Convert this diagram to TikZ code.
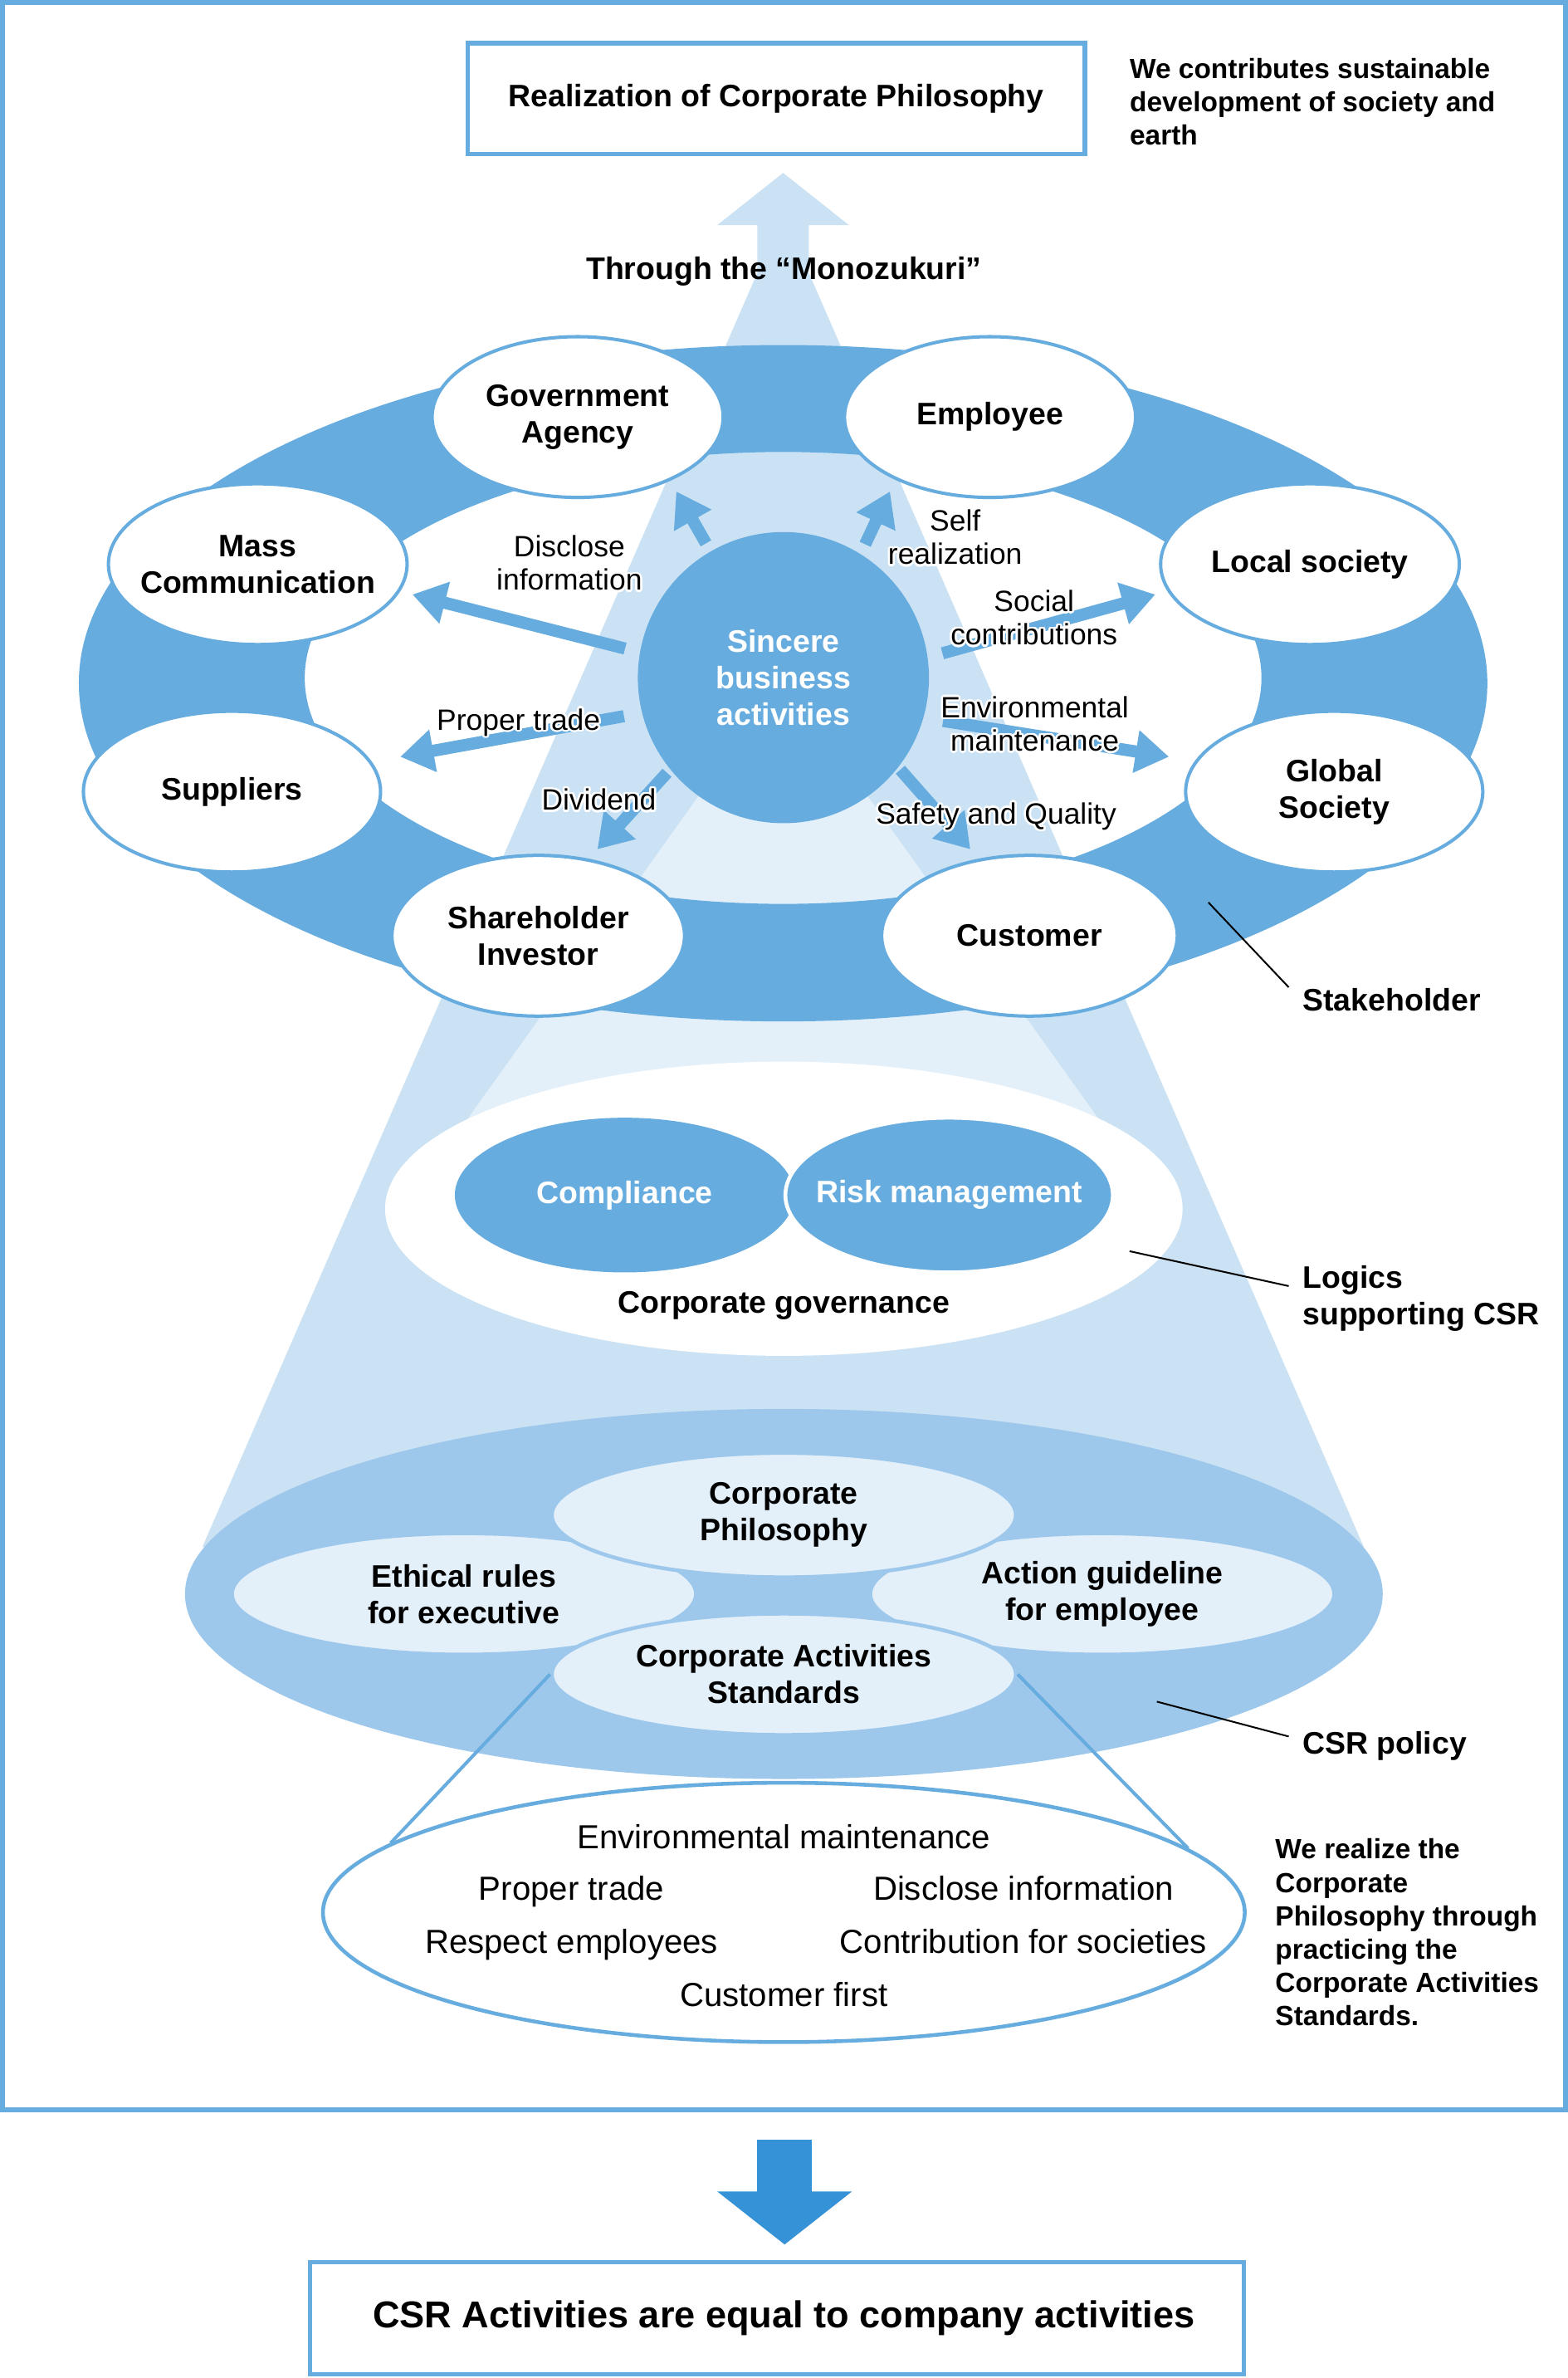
\documentclass[tikz,border=0pt]{standalone}
\usepackage{fontspec}
\setmainfont{Liberation Sans}
\usepackage{contour}
\contourlength{1.4pt}
\usetikzlibrary{arrows.meta,shapes.geometric}
\definecolor{ringblue}{HTML}{67ACDF}
\definecolor{conelight}{HTML}{CBE2F4}
\definecolor{conepale}{HTML}{E3F0FA}
\definecolor{policyblue}{HTML}{9DC8EB}
\definecolor{deepblue}{HTML}{3592D7}
\newcommand\boldlbl{\fontsize{20.5}{24}\selectfont\bfseries}
\newcommand\notelbl{\fontsize{18.3}{22}\selectfont\bfseries}
\newcommand\spokelbl{\fontsize{19.4}{22}\selectfont}
\newcommand\listlbl{\fontsize{22}{26}\selectfont}
\newcommand\halo[1]{\contour{white}{#1}}
\tikzset{
  stake/.style={ellipse, draw=ringblue, line width=2.2pt, fill=white, minimum height=106pt,
    inner xsep=-12pt, inner ysep=0pt, font=\boldlbl, align=center},
  spoke/.style={draw=ringblue, line width=8pt, -{Triangle[length=22pt,width=27pt]}},
  spoketext/.style={font=\spokelbl, align=center, inner sep=0pt},
  logic/.style={ellipse, fill=ringblue, text=white, font=\boldlbl, minimum width=224pt,
    minimum height=102pt, inner xsep=-14pt, inner ysep=0pt},
  policy/.style={ellipse, fill=conepale, draw=policyblue, line width=2.5pt, minimum width=306pt,
    minimum height=80pt, inner sep=0pt, font=\boldlbl, align=center},
  boxed/.style={draw=ringblue, line width=3pt, fill=white, inner sep=0pt},
  note/.style={font=\notelbl, align=left, anchor=north west, inner sep=0pt},
  tag/.style={font=\boldlbl, align=left, anchor=west, inner xsep=9pt, inner ysep=0pt},
  lead/.style={draw=black, line width=1.1pt},
  zoomline/.style={draw=ringblue, line width=2.2pt},
  bigarrow/.style={draw=deepblue, line width=36pt, -{Triangle[length=35pt,width=87pt]}},
}

\begin{document}
\begin{tikzpicture}[x=1pt,y=-1pt]
\useasboundingbox[fill=white] (0,0) rectangle (1034,1568);
% light cone with the arrow on top
\fill[conelight] (516.5,114) -- (560,148.5) -- (533.5,148.5) -- (533.5,180) -- (899.5,1020)
  -- (133.5,1020) -- (499.5,180) -- (499.5,148.5) -- (473,148.5) -- cycle;
\fill[conepale] (516.5,447) -- (767,797) -- (266,797) -- cycle;
% stakeholder ring
\fill[ringblue,even odd rule] (516.5,450.5) ellipse [x radius=464.5pt,y radius=223pt]
  (516.5,447) ellipse [x radius=315.5pt,y radius=149pt];

\coordinate (govE) at (446,324);
\coordinate (empE) at (587,324);
\coordinate (masE) at (272,392);
\coordinate (locE) at (762,392);
\coordinate (supE) at (264,499);
\coordinate (gloE) at (771,499);
\coordinate (shaE) at (394,560);
\coordinate (cusE) at (640,560);

\node[circle, fill=ringblue, minimum size=192pt, inner sep=0pt, text=white, font=\boldlbl,
  align=center] (sba) at (516.7,446.8) {Sincere\\business\\activities};

\draw[spoke, shorten <=6pt] (sba.120.5) -- (govE);
\draw[spoke, shorten <=7pt] (sba.58.7) -- (empE);
\draw[spoke, shorten <=10pt] (sba.170.9) -- (masE);
\draw[spoke, shorten <=10pt] (sba.8) -- (locE);
\draw[spoke, shorten <=12pt] (sba.194.6) -- (supE);
\draw[spoke, shorten <=13pt] (sba.-16) -- (gloE);
\draw[spoke, shorten <=3pt] (sba.219) -- (shaE);
\draw[spoke, shorten <=2pt] (sba.-38.7) -- (cusE);

\node[stake, minimum width=192pt] (gov) at (381,275) {Government\\Agency};
\node[stake, minimum width=192pt] (emp) at (653,275) {Employee};
\node[stake, minimum width=197pt] (mass) at (170,372) {Mass\\Communication};
\node[stake, minimum width=197pt] (local) at (864,372) {Local society};
\node[stake, minimum width=196pt] (supp) at (153,522) {Suppliers};
\node[stake, minimum width=196pt] (glob) at (880,522) {Global\\Society};
\node[stake, minimum width=193pt] (share) at (355,617) {Shareholder\\Investor};
\node[stake, minimum width=195pt] (cust) at (679,617) {Customer};

\node[spoketext] (lDis) at (375.5,372) {\halo{Disclose}\\\halo{information}};
\node[spoketext] (lSelf) at (630,355) {\halo{Self}\\\halo{realization}};
\node[spoketext] (lSoc) at (682,408) {\halo{Social}\\\halo{contributions}};
\node[spoketext] (lPro) at (342,477) {\halo{Proper trade}};
\node[spoketext] (lEnv) at (682.5,478) {\halo{Environmental}\\\halo{maintenance}};
\node[spoketext] (lDiv) at (395,528) {\halo{Dividend}};
\node[spoketext] (lSaf) at (657,539) {\halo{Safety and Quality}};

% logics supporting CSR
\node[ellipse, fill=white, minimum width=526pt, minimum height=194pt, inner sep=0pt] (cgov) at (517,797) {};
\node[logic] (comp) at (412,788) {Compliance};
\node[logic, minimum width=216pt, draw=white, line width=2.5pt] (risk) at (626,788) {Risk management};
\node[font=\boldlbl, inner sep=0pt] (cgtext) at (517,861) {Corporate governance};

% CSR policy
\node[ellipse, fill=policyblue, minimum width=790pt, minimum height=244pt, inner sep=0pt] (csr) at (517,1051) {};
\node[policy] (eth) at (306,1051) {Ethical rules\\for executive};
\node[policy] (act) at (727,1051) {Action guideline\\for employee};
\node[policy, minimum height=82pt] (phil) at (517,999) {Corporate\\Philosophy};
\node[policy] (cas) at (517,1104) {Corporate Activities\\Standards};

% standards list
\node[ellipse, draw=ringblue, line width=2.5pt, fill=white, minimum width=608pt,
  minimum height=171pt, inner sep=0pt] (stdlist) at (517,1261) {};
\draw[zoomline] (cas.west) -- (stdlist.170.5);
\draw[zoomline] (cas.east) -- (stdlist.9.5);
\node[font=\listlbl, inner sep=0pt] (sEnv) at (517,1211) {Environmental maintenance};
\node[font=\listlbl, inner sep=0pt] (sPro) at (377,1247) {Proper trade};
\node[font=\listlbl, inner sep=0pt] (sDis) at (675,1245) {Disclose information};
\node[font=\listlbl, inner sep=0pt] (sRes) at (377,1282) {Respect employees};
\node[font=\listlbl, inner sep=0pt] (sCon) at (675,1280) {Contribution for societies};
\node[font=\listlbl, inner sep=0pt] (sCus) at (517,1315) {Customer first};

% frame and top
\draw[ringblue, line width=3.2pt] (1.6,1.6) rectangle (1032.4,1391);
\node[boxed, minimum width=407pt, minimum height=73pt, font=\boldlbl] (real) at (512,65)
  {Realization of Corporate Philosophy};
\node[note] (nTop) at (745,38.3) {We contributes sustainable\\development of society and\\earth};
\node[font=\boldlbl, inner sep=0pt] (mono) at (517,179) {Through the “Monozukuri”};

% side tags
\coordinate (kStake) at (797,595);
\coordinate (kLogic) at (745,825);
\coordinate (kPol) at (763,1122);
\node[tag] (tStake) at (850,659) {Stakeholder};
\node[tag] (tLogic) at (850,856) {Logics\\supporting CSR};
\node[tag] (tPol) at (850,1151) {CSR policy};
\draw[lead] (kStake) -- ([yshift=8pt]tStake.west);
\draw[lead] (kLogic) -- ([yshift=8pt]tLogic.west);
\draw[lead] (kPol) -- ([yshift=6pt]tPol.west);
\node[note] (nBot) at (841,1212.3) {We realize the\\Corporate\\Philosophy through\\practicing the\\Corporate Activities\\Standards.};

% result
\coordinate (frameS) at (517.5,1391);
\node[boxed, minimum width=616pt, minimum height=74pt, font=\fontsize{24.7}{28}\selectfont\bfseries]
  (res) at (512.5,1528.5) {\hspace*{9pt}CSR Activities are equal to company activities};
\draw[bigarrow, shorten <=20pt, shorten >=10pt] (frameS) -- (frameS |- res.north);
\end{tikzpicture}
\end{document}
